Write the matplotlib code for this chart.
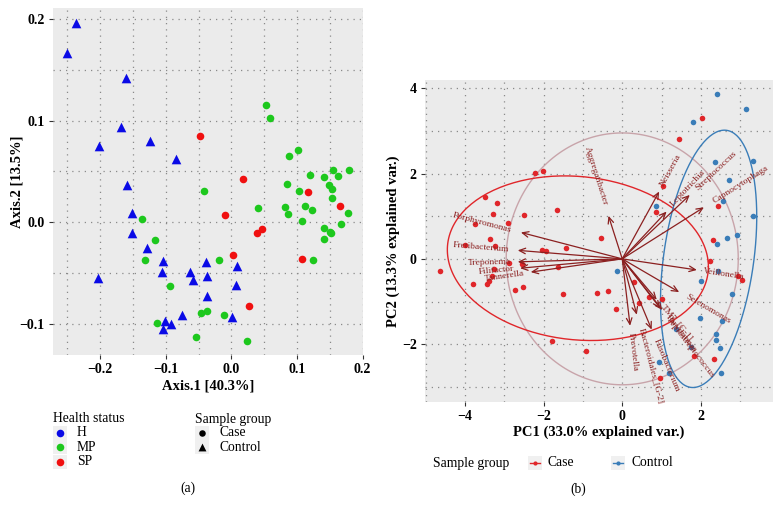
import numpy as np
import matplotlib
matplotlib.use('Agg')
import matplotlib.pyplot as plt
from matplotlib.patches import Rectangle
from matplotlib.textpath import TextPath
from matplotlib.font_manager import FontProperties
from matplotlib.ticker import MultipleLocator

plt.rcParams['font.family'] = ['Liberation Serif', 'DejaVu Serif']

# ---------------- Panel (a) data ----------------
h_x = [-0.2365, -0.250, -0.161, -0.168, -0.2015, -0.124, -0.085, -0.159, -0.152, -0.152,
       -0.128, -0.104, -0.106, -0.063, -0.0386, 0.008, -0.203, -0.059, -0.037, 0.0066,
       -0.0376, -0.075, -0.101, -0.092, -0.105, 0.0005]
h_y = [0.196, 0.167, 0.142, 0.094, 0.075, 0.080, 0.0625, 0.037, 0.009, -0.011,
       -0.026, -0.038, -0.049, -0.049, -0.039, -0.043, -0.0556, -0.057, -0.0536, -0.0616,
       -0.0725, -0.0914, -0.097, -0.1003, -0.105, -0.094]
mp_x = [0.0533, 0.0584, 0.1015, 0.0878, 0.1198, 0.0853, 0.1543, 0.1797, 0.1416, 0.1624,
        0.1482, 0.1533, 0.1036, 0.1533, -0.0426, 0.0812, 0.1117, 0.1234, 0.0858, 0.1777,
        0.0406, 0.108, 0.1665, 0.1411, 0.1518, 0.1495, 0.1411, -0.136, -0.117, -0.1325,
        -0.0193, 0.1239, -0.094, -0.0457, -0.0376, -0.0107, -0.1132, -0.0548, 0.0239]
mp_y = [0.115, 0.103, 0.0707, 0.0648, 0.0464, 0.0378, 0.0516, 0.0516, 0.0444, 0.0457,
        0.0365, 0.0326, 0.0303, 0.0237, 0.0303, 0.0151, 0.0158, 0.0118, 0.0082, 0.0089,
        0.0138, 0.001, -0.0023, -0.0063, -0.0106, -0.0095, -0.0168, 0.0033, -0.0178, -0.0375,
        -0.0375, -0.0372, -0.0632, -0.0897, -0.0877, -0.0914, -0.0997, -0.1136, -0.1169]
sp_x = [-0.0482, 0.0183, -0.0102, 0.0396, 0.0467, 0.1168, 0.166, 0.1076, 0.0025, 0.0264]
sp_y = [0.0849, 0.0421, 0.0072, -0.0112, -0.0072, 0.0296, 0.0158, -0.0359, -0.0326, -0.0831]

# ---------------- Panel (b) data ----------------
case_pc1 = [2.02, 1.44, -2.22, -2.01, -3.50, -3.18, -3.29, -2.50, -1.66, -2.92,
            -3.76, 1.05, 0.87, 2.43, -0.53, -3.37, 2.31, -4.01, -3.24, -1.43,
            -2.03, -1.93, 2.23, -4.64, 2.94, 3.04, -2.89, -2.55, -3.26, -3.31,
            -3.40, -3.45, -3.80, -2.74, -2.52, -1.52, -0.65, -0.36, -0.17, -1.80,
            -0.93, 0.30, 0.68, 0.43, 1.01, 0.97, 2.33, 1.83, -1.64]
case_pc2 = [3.31, 2.81, 2.01, 2.07, 1.46, 1.32, 1.06, 1.03, 1.14, 0.85,
            0.81, 1.71, 1.10, 1.25, 0.50, 0.46, 0.44, 0.32, 0.31, 0.25,
            0.20, 0.19, -0.04, -0.28, -0.41, -0.49, -0.10, -0.12, -0.24, -0.40,
            -0.52, -0.58, -0.60, -0.72, -0.66, -0.83, -0.81, -0.75, -1.17, -1.93,
            -2.15, -0.54, -0.90, -1.04, -0.95, -2.80, -2.34, -2.28, -0.19]
ctrl_pc1 = [2.40, 3.14, 1.80, 3.32, 2.35, 2.73, 0.86, 2.57, 3.34, 2.93,
            2.67, 2.40, -0.135, 2.43, 2.01, 2.79, 1.99, 2.55, 2.38, 2.39,
            2.49, 1.75, 0.94, 1.19, 2.51, 1.38]
ctrl_pc2 = [3.86, 3.52, 3.20, 2.30, 2.27, 1.85, 1.25, 1.36, 1.01, 0.56,
            0.48, 0.34, -0.28, -0.28, -0.53, -0.82, -1.38, -1.45, -1.76, -1.90,
            -2.09, -2.07, -2.42, -2.68, -2.68, -1.65]

taxa = ['Porphyromonas', 'Fretibacterium', 'Treponema', 'Filifactor', 'Tannerella',
        'Aggregatibacter', 'Neisseria', 'Leptotrichia', 'Streptococcus', 'Capnocytophaga',
        'Veillonella', 'Selenomonas', 'TM7_[G-1]', 'Peptostreptococcus', 'Parvimonas',
        'Prevotella', 'Bacteroidales_[G-2]', 'Fusobacterium']
load_pc1 = [-2.58, -2.66, -2.66, -2.60, -2.33, -0.35, 0.94, 1.13, 1.72, 2.08,
            1.90, 1.45, 0.88, 0.97, 1.02, 0.20, 0.37, 0.75]
load_pc2 = [0.62, 0.20, -0.07, -0.22, -0.31, 1.01, 1.58, 1.11, 1.50, 1.21,
            -0.26, -0.78, -0.96, -1.16, -1.20, -1.57, -1.31, -1.66]

# ---------------- styling ----------------
BG = '#EBEBEB'
GRID = '#8a8a8a'
C_H, C_MP, C_SP = '#0A0AE6', '#1DC81D', '#F01010'
C_CASE, C_CTRL = '#E0262A', '#3A7DB8'
C_ARROW = '#8B2020'
C_CIRC = '#C8A4AA'

fig = plt.figure(figsize=(7.81, 5.15), dpi=100)


def style_axes(ax):
    ax.set_facecolor(BG)
    for s in ax.spines.values():
        s.set_visible(False)
    ax.grid(True, which='both', color=GRID, linestyle=(0, (1, 4)), linewidth=0.9)
    ax.set_axisbelow(True)
    ax.tick_params(which='major', length=3, width=0.8, color='#333333',
                   labelsize=10, pad=3)
    ax.tick_params(which='minor', length=0)
    for lab in ax.get_xticklabels() + ax.get_yticklabels():
        lab.set_fontweight('bold')


# ---------------- Panel (a) ----------------
axa = fig.add_axes([53 / 781, 1 - 355 / 515, 310 / 781, 347 / 515])
axa.set_xlim(-0.272, 0.2005)
axa.set_ylim(-0.131, 0.211)
axa.xaxis.set_major_locator(MultipleLocator(0.1))
axa.xaxis.set_minor_locator(MultipleLocator(0.05))
axa.yaxis.set_major_locator(MultipleLocator(0.1))
axa.yaxis.set_minor_locator(MultipleLocator(0.05))
axa.scatter(h_x, h_y, marker='^', s=48, color=C_H, linewidths=0, zorder=3)
axa.scatter(mp_x, mp_y, marker='o', s=30, color=C_MP, linewidths=0, zorder=3)
axa.scatter(sp_x, sp_y, marker='o', s=30, color=C_SP, linewidths=0, zorder=3)
style_axes(axa)
axa.set_xlabel('Axis.1 [40.3%]', fontsize=10.5, fontweight='bold', labelpad=2)
axa.set_ylabel('Axis.2 [13.5%]', fontsize=10.5, fontweight='bold')
axa.yaxis.set_label_coords(-0.095, 0.5)

# ---------------- Panel (b) ----------------
axb = fig.add_axes([425 / 781, 1 - 401.7 / 515, 347.7 / 781, 321.7 / 515])
axb.set_xlim(-5.02, 3.83)
axb.set_ylim(-3.35, 4.195)
axb.xaxis.set_major_locator(MultipleLocator(2))
axb.xaxis.set_minor_locator(MultipleLocator(1))
axb.yaxis.set_major_locator(MultipleLocator(2))
axb.yaxis.set_minor_locator(MultipleLocator(1))
style_axes(axb)
axb.set_xlabel('PC1 (33.0% explained var.)', fontsize=10.5, fontweight='bold', labelpad=2)
axb.set_ylabel('PC2 (13.3% explained var.)', fontsize=10.5, fontweight='bold')
axb.yaxis.set_label_coords(-0.072, 0.5)

# correlation circle (ggbiplot style)
all1 = np.array(case_pc1 + ctrl_pc1)
all2 = np.array(case_pc2 + ctrl_pc2)
r = np.sqrt(-2 * np.log(1 - 0.69)) * (np.mean(all1 ** 2) * np.mean(all2 ** 2)) ** 0.25
t = np.linspace(0, 2 * np.pi, 200)
axb.plot(r * np.cos(t), r * np.sin(t), color=C_CIRC, lw=1.0, zorder=2)

# group ellipses (normal, prob 0.68)
ed = np.sqrt(-2 * np.log(1 - 0.68))
for gx, gy, col in [(case_pc1, case_pc2, C_CASE), (ctrl_pc1, ctrl_pc2, C_CTRL)]:
    xy = np.column_stack([gx, gy])
    mu = xy.mean(axis=0)
    sig = np.cov(xy.T)
    L = np.linalg.cholesky(sig)
    circ = np.column_stack([np.cos(t), np.sin(t)])
    el = circ @ L.T * ed + mu
    axb.plot(el[:, 0], el[:, 1], color=col, lw=1.0, zorder=2)

axb.scatter(case_pc1, case_pc2, s=16, color=C_CASE, linewidths=0, zorder=3)
axb.scatter(ctrl_pc1, ctrl_pc2, s=16, color=C_CTRL, linewidths=0, zorder=3)

# loadings arrows + labels
fp = FontProperties(family='Liberation Serif', size=6.8)
for name, vx, vy in zip(taxa, load_pc1, load_pc2):
    axb.annotate('', xy=(vx, vy), xytext=(0, 0),
                 arrowprops=dict(arrowstyle='->,head_length=0.45,head_width=0.2',
                                 color=C_ARROW, lw=0.9, shrinkA=0, shrinkB=0),
                 zorder=4)
    ang = np.degrees(np.arctan(vy / vx))
    w_pts = TextPath((0, 0), name, prop=fp).get_extents().width
    gap = 0.17 * w_pts * 100 / 72 / 40.0
    n = np.hypot(vx, vy)
    px, py = vx + gap * vx / n, vy + gap * vy / n
    axb.text(px, py, name, fontproperties=fp, color=C_ARROW,
             rotation=ang, rotation_mode='anchor', transform_rotates_text=True,
             ha='left' if vx > 0 else 'right', va='center', zorder=5)

# ---------------- legends / captions (figure pixel overlay) ----------------
ov = fig.add_axes([0, 0, 1, 1], facecolor='none')
ov.set_xlim(0, 781)
ov.set_ylim(515, 0)
ov.axis('off')

KEYBG = '#F0F0F0'
LF = 9.8
# Health status
ov.text(53, 419, 'Health status', fontsize=LF, va='center', ha='left')
for i, (lab, col) in enumerate([('H', C_H), ('MP', C_MP), ('SP', C_SP)]):
    yy = 433 + i * 14.3
    ov.add_patch(Rectangle((53, yy - 7), 14, 14, color=KEYBG, lw=0))
    ov.scatter([60], [yy], s=30, color=col, linewidths=0)
    ov.text(77, yy, lab, fontsize=LF, va='center', ha='left')
# Sample group (a)
ov.text(195, 419, 'Sample group', fontsize=LF, va='center', ha='left')
for i, (lab, mk) in enumerate([('Case', 'o'), ('Control', '^')]):
    yy = 433 + i * 14.3
    ov.add_patch(Rectangle((195, yy - 7), 14, 14, color=KEYBG, lw=0))
    ov.scatter([202], [yy], s=22 if mk == 'o' else 32, marker=mk, color='black', linewidths=0)
    ov.text(219, yy, lab, fontsize=LF, va='center', ha='left')
ov.text(188, 488, '(a)', fontsize=LF, va='center', ha='center')

# Sample group (b)
ov.text(433, 463, 'Sample group', fontsize=LF, va='center', ha='left')
for xk, lab, col in [(535, 'Case', C_CASE), (618, 'Control', C_CTRL)]:
    ov.add_patch(Rectangle((xk - 7, 456), 14, 14, color=KEYBG, lw=0))
    ov.plot([xk - 5, xk + 5], [463, 463], color=col, lw=1.0)
    ov.scatter([xk], [463], s=9, color=col, linewidths=0)
    ov.text(xk + 13, 463, lab, fontsize=LF, va='center', ha='left')
ov.text(578, 489, '(b)', fontsize=LF, va='center', ha='center')

fig.savefig('out.png', dpi=100)
